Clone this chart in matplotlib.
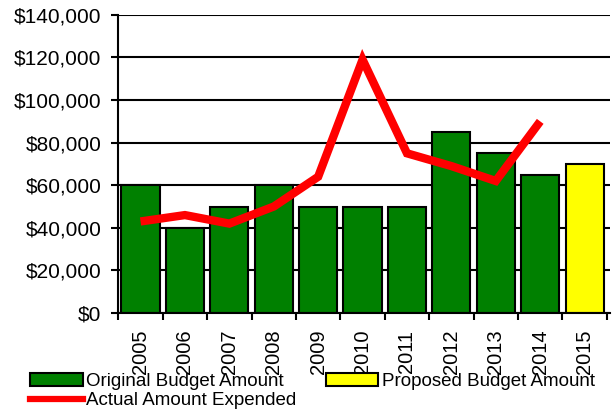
import matplotlib.pyplot as plt
import numpy as np
from matplotlib.lines import Line2D
from matplotlib.patches import Patch

plt.rcParams['font.family'] = 'Liberation Sans'

years = ['2005', '2006', '2007', '2008', '2009', '2010',
         '2011', '2012', '2013', '2014', '2015']
original_budget = [60000, 40000, 50000, 60000, 50000, 50000,
                   50000, 85000, 75000, 65000]
proposed_budget = [70000]
actual_expended = [43000, 46000, 42000, 50000, 64000, 119000,
                   75000, 69000, 62000, 90000]

fig = plt.figure(figsize=(6.13, 4.13), dpi=100)
ax = fig.add_axes([0.193, 0.242, 0.802, 0.722])

x = np.arange(len(years))
n_orig = len(original_budget)

ax.bar(x[:n_orig], original_budget, width=0.86, color='#008000',
       edgecolor='black', linewidth=1.5, zorder=2)
ax.bar(x[n_orig:], proposed_budget, width=0.86, color='#ffff00',
       edgecolor='black', linewidth=1.5, zorder=2)
ax.plot(x[:len(actual_expended)], actual_expended, color='#ff0000',
        linewidth=6, solid_joinstyle='miter', solid_capstyle='butt', zorder=3)

ax.set_ylim(0, 140000)
ax.set_xlim(-0.5, len(years) - 0.5 + 0.07)
ax.set_yticks(np.arange(0, 140001, 20000))
ax.set_yticklabels(['${:,}'.format(v) for v in range(0, 140001, 20000)])
ax.yaxis.grid(True, color='black', linewidth=1.5, zorder=1)
ax.set_axisbelow(True)

# year labels at bar centres, tick marks between categories
ax.set_xticks(x)
ax.set_xticklabels(years, rotation=90)
ax.set_xticks(np.arange(-0.5, len(years)), minor=True)
ax.tick_params(axis='x', which='major', length=0, pad=12, labelsize=14.5)
ax.tick_params(axis='x', which='minor', length=5, width=1.5, color='black')
ax.tick_params(axis='y', length=5, width=1.5, pad=7, labelsize=15)

for side in ['top', 'right']:
    ax.spines[side].set_visible(False)
for side in ['left', 'bottom']:
    ax.spines[side].set_linewidth(1.5)

handles = [
    Patch(facecolor='#008000', edgecolor='black', linewidth=1.5),
    Line2D([0], [0], color='#ff0000', linewidth=4.5),
    Patch(facecolor='#ffff00', edgecolor='black', linewidth=1.5),
]
labels = ['Original Budget Amount', 'Actual Amount Expended',
          'Proposed Budget Amount']
fig.legend(handles, labels, ncol=2, loc='center left',
           bbox_to_anchor=(0.049, 0.053), frameon=False, fontsize=13.5,
           handlelength=2.8, handleheight=0.68, handletextpad=0.2,
           columnspacing=1.57, labelspacing=0.12, borderpad=0,
           borderaxespad=0)

fig.savefig('out.png', dpi=100)
